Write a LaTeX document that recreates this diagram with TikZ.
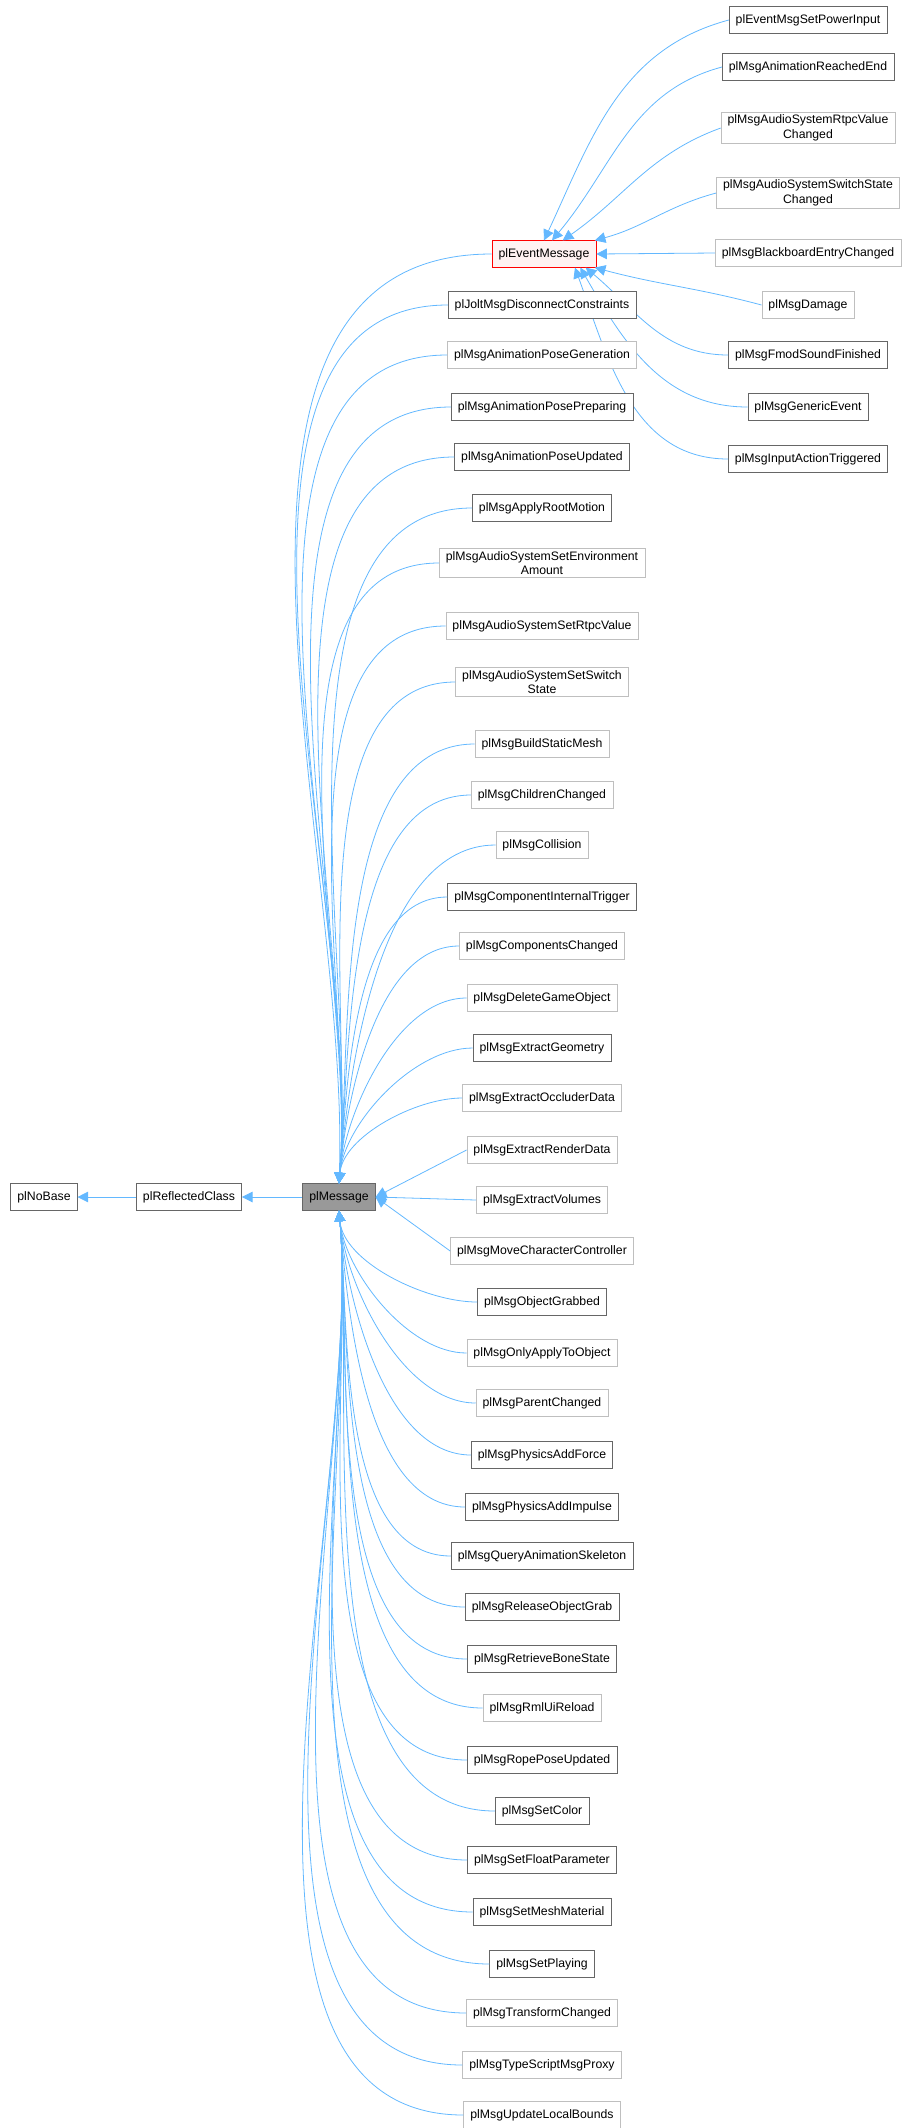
\documentclass[tikz,border=0pt]{standalone}
\usepackage{fontspec}
\setmainfont{Liberation Sans}
\usetikzlibrary{arrows.meta, positioning}
\definecolor{edgeblue}{HTML}{63B8FF}
\definecolor{darkline}{HTML}{666666}
\definecolor{lightline}{HTML}{BFBFBF}
\tikzset{
  cls/.style={
    rectangle,
    draw=darkline,
    fill=white,
    align=center,
    font=\fontsize{9.2}{11}\selectfont,
    inner xsep=5pt,
    inner ysep=2pt,
    minimum height=20pt
  },
  undoc/.style={cls, draw=lightline},
  inherit/.style={
    draw=edgeblue,
    line width=0.6pt,
    {Triangle[length=8pt,width=8pt,fill=edgeblue]}-
  }
}

\begin{document}
\begin{tikzpicture}[x=0.75pt, y=-0.75pt]
  \useasboundingbox (0,0) rectangle (912,2128);
  % Base chain
  \node[cls] (nobase) at (44,1197) {plNoBase};
  \node[cls] (reflected) at (189,1197) {plReflectedClass};
  \node[cls, fill=gray!80] (message) at (339,1197) {plMessage};
  \draw[inherit] (nobase) -- (reflected);
  \draw[inherit] (reflected) -- (message);

  % Event message and its children
  \node[cls, draw=red, fill=red!5] (event) at (544,254) {plEventMessage};
  \draw[inherit] (message.north) to[out=88,in=180,looseness=0.9] (event.west);
  \foreach \n/\y/\s/\txt in {
      e1/20/cls/plEventMsgSetPowerInput,
      e2/67/cls/plMsgAnimationReachedEnd,
      e3/128/undoc/{plMsgAudioSystemRtpcValue\\Changed},
      e4/193/undoc/{plMsgAudioSystemSwitchState\\Changed},
      e5/253/undoc/plMsgBlackboardEntryChanged,
      e6/305/undoc/plMsgDamage,
      e7/355/cls/plMsgFmodSoundFinished,
      e8/407/cls/plMsgGenericEvent,
      e9/459/cls/plMsgInputActionTriggered} {
    \node[\s] (\n) at (808,\y) {\txt};
  }
  \draw[inherit] (event.north) to[out=65,in=195] (e1.west);
  \draw[inherit] ([xshift=6pt]event.north) to[out=50,in=195] (e2.west);
  \draw[inherit] ([xshift=14pt]event.north) to[out=35,in=200] (e3.west);
  \draw[inherit] (event.15) to[out=15,in=195] (e4.west);
  \draw[inherit] (event.east) -- (e5.west);
  \draw[inherit] (event.-15) to[out=-15,in=165] (e6.west);
  \draw[inherit] ([xshift=-8pt]event.south east) to[out=-40,in=180] (e7.west);
  \draw[inherit] ([xshift=-12pt]event.south east) to[out=-60,in=180] (e8.west);
  \draw[inherit] ([xshift=-16pt]event.south east) to[out=-70,in=180] (e9.west);

  % Direct children of plMessage
  \foreach \n/\y/\s/\txt in {
      m1/305/cls/plJoltMsgDisconnectConstraints,
      m2/355/undoc/plMsgAnimationPoseGeneration,
      m3/407/cls/plMsgAnimationPosePreparing,
      m4/457/cls/plMsgAnimationPoseUpdated,
      m5/508/cls/plMsgApplyRootMotion,
      m6/563/undoc/{plMsgAudioSystemSetEnvironment\\Amount},
      m7/626/undoc/plMsgAudioSystemSetRtpcValue,
      m8/682/undoc/{plMsgAudioSystemSetSwitch\\State},
      m9/744/undoc/plMsgBuildStaticMesh,
      m10/795/undoc/plMsgChildrenChanged,
      m11/845/undoc/plMsgCollision,
      m12/897/cls/plMsgComponentInternalTrigger,
      m13/946/undoc/plMsgComponentsChanged,
      m14/998/undoc/plMsgDeleteGameObject,
      m15/1048/cls/plMsgExtractGeometry,
      m16/1098/undoc/plMsgExtractOccluderData,
      m17/1150/undoc/plMsgExtractRenderData,
      m18/1200/undoc/plMsgExtractVolumes,
      m19/1251/undoc/plMsgMoveCharacterController,
      m20/1302/cls/plMsgObjectGrabbed,
      m21/1353/undoc/plMsgOnlyApplyToObject,
      m22/1403/undoc/plMsgParentChanged,
      m23/1455/cls/plMsgPhysicsAddForce,
      m24/1507/cls/plMsgPhysicsAddImpulse,
      m25/1556/cls/plMsgQueryAnimationSkeleton,
      m26/1607/cls/plMsgReleaseObjectGrab,
      m27/1659/cls/plMsgRetrieveBoneState,
      m28/1708/undoc/plMsgRmlUiReload,
      m29/1760/cls/plMsgRopePoseUpdated,
      m30/1811/cls/plMsgSetColor,
      m31/1860/cls/plMsgSetFloatParameter,
      m32/1912/cls/plMsgSetMeshMaterial,
      m33/1964/cls/plMsgSetPlaying,
      m34/2013/undoc/plMsgTransformChanged,
      m35/2065/undoc/plMsgTypeScriptMsgProxy,
      m36/2115/undoc/plMsgUpdateLocalBounds} {
    \node[\s] (\n) at (542,\y) {\txt};
    \ifnum\y<1120
      \draw[inherit] (message.north) to[out=85,in=180,looseness=0.8] (\n.west);
    \else\ifnum\y<1280
      \draw[inherit] (message.east) -- (\n.west);
    \else
      \draw[inherit] (message.south) to[out=-85,in=180,looseness=0.8] (\n.west);
    \fi\fi
  }
\end{tikzpicture}
\end{document}
